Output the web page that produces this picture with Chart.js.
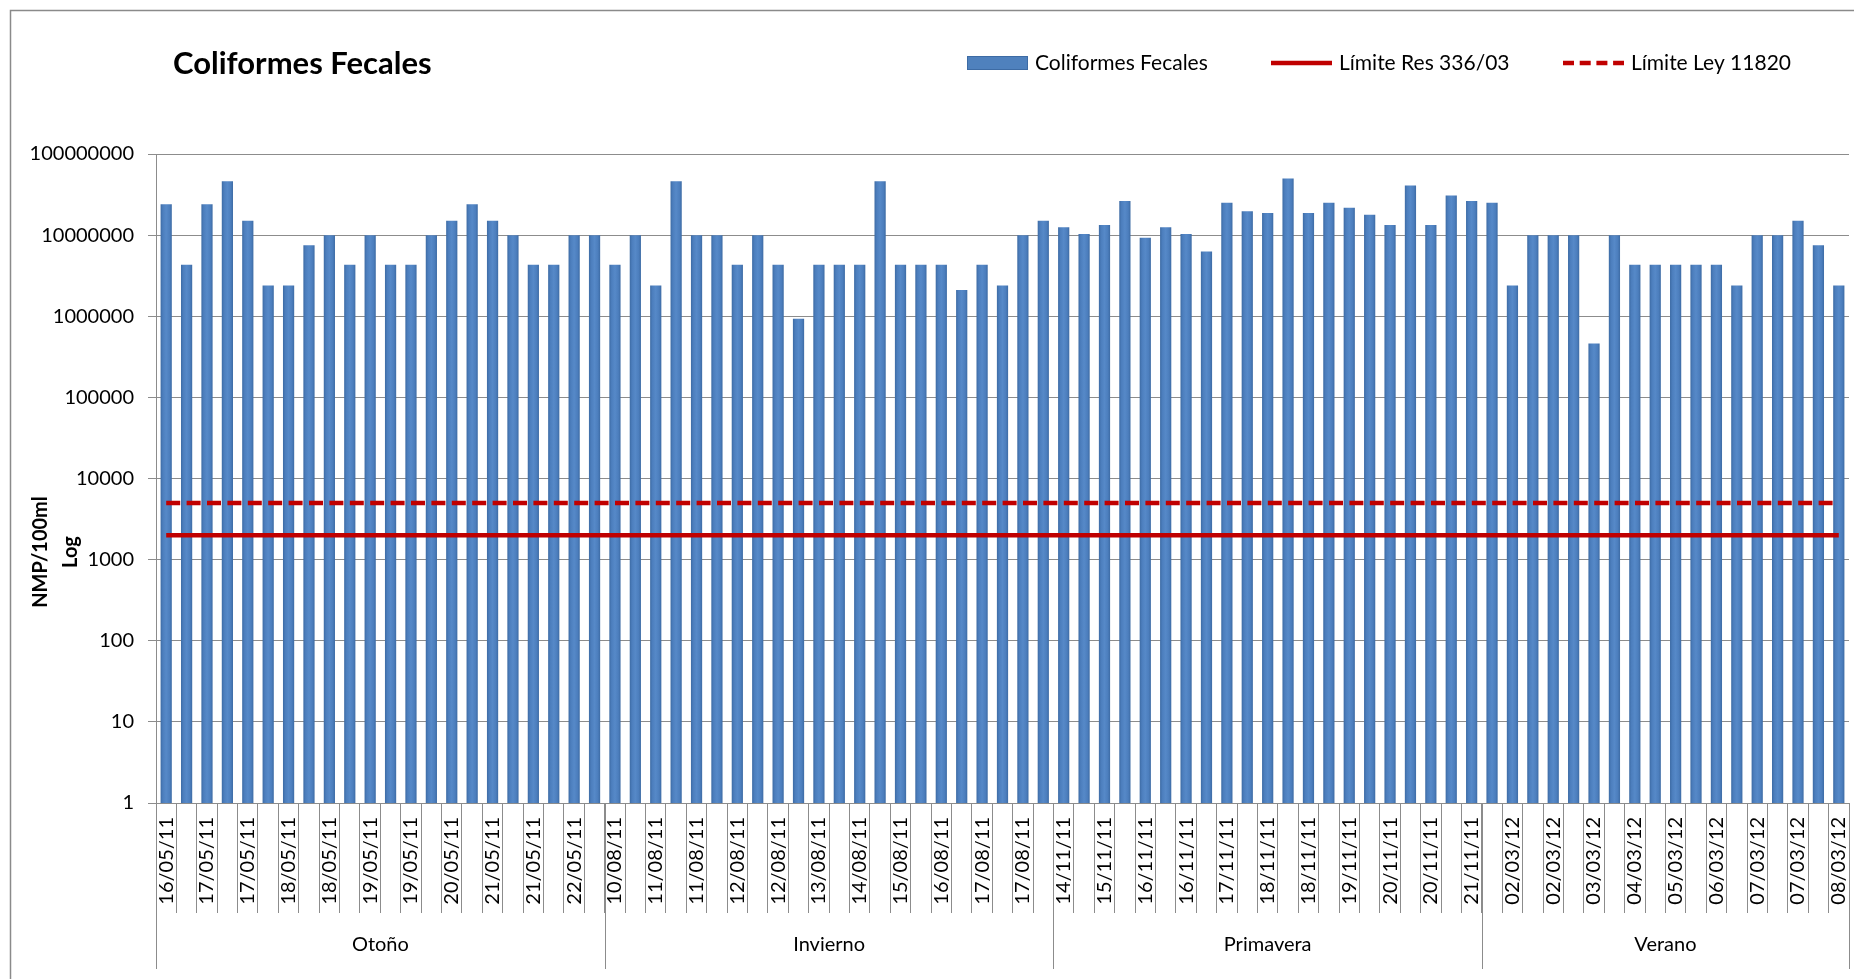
<!DOCTYPE html>
<html>
<head>
<meta charset="utf-8">
<title>Coliformes Fecales</title>
<script src="https://cdn.jsdelivr.net/npm/chart.js@4.4.0/dist/chart.umd.min.js"></script>
<style>
  html, body { margin: 0; padding: 0; background: #ffffff; }
  canvas { display: block; }
</style>
</head>
<body>
<canvas id="chart" width="1854" height="979"></canvas>
<script>
// ---- Data -------------------------------------------------------------
const chartTitle = 'Coliformes Fecales';
const seriesNames = ['Coliformes Fecales', 'Límite Res 336/03', 'Límite Ley 11820'];
const yTitleLines = ['NMP/100ml', 'Log'];
const seasons = ['Otoño', 'Invierno', 'Primavera', 'Verano'];

const datesOtono = ['16/05/11', '16/05/11', '17/05/11', '17/05/11', '17/05/11', '17/05/11',
  '18/05/11', '18/05/11', '18/05/11', '19/05/11', '19/05/11', '19/05/11', '19/05/11', '20/05/11',
  '20/05/11', '20/05/11', '21/05/11', '21/05/11', '21/05/11', '22/05/11', '22/05/11', '22/05/11'];
const datesInvierno = ['10/08/11', '10/08/11', '11/08/11', '11/08/11', '11/08/11', '12/08/11',
  '12/08/11', '12/08/11', '12/08/11', '13/08/11', '13/08/11', '14/08/11', '14/08/11', '15/08/11',
  '15/08/11', '15/08/11', '16/08/11', '16/08/11', '17/08/11', '17/08/11', '17/08/11', '18/08/11'];
const datesPrimavera = ['14/11/11', '14/11/11', '15/11/11', '15/11/11', '16/11/11', '16/11/11',
  '16/11/11', '17/11/11', '17/11/11', '17/11/11', '18/11/11', '18/11/11', '18/11/11', '19/11/11',
  '19/11/11', '19/11/11', '20/11/11', '20/11/11', '20/11/11', '21/11/11', '21/11/11'];
const datesVerano = ['01/03/12', '02/03/12', '02/03/12', '02/03/12', '03/03/12', '03/03/12',
  '03/03/12', '04/03/12', '04/03/12', '05/03/12', '05/03/12', '06/03/12', '06/03/12', '07/03/12',
  '07/03/12', '07/03/12', '08/03/12', '08/03/12'];

// NMP/100ml per sample
const valuesOtono = [24000000, 4300000, 24000000, 46000000, 15000000, 2400000, 2400000, 7500000,
  10000000, 4300000, 10000000, 4300000, 4300000, 10000000, 15000000, 24000000, 15000000, 10000000,
  4300000, 4300000, 10000000, 10000000];
const valuesInvierno = [4300000, 10000000, 2400000, 46000000, 10000000, 10000000, 4300000, 10000000,
  4300000, 930000, 4300000, 4300000, 4300000, 46000000, 4300000, 4300000, 4300000, 2100000,
  4300000, 2400000, 10000000, 15000000];
const valuesPrimavera = [12500000, 10300000, 13300000, 26400000, 9300000, 12500000, 10300000,
  6300000, 25000000, 19700000, 18700000, 49800000, 18700000, 25000000, 21800000, 17800000,
  13300000, 41000000, 13300000, 30700000, 26400000];
const valuesVerano = [25000000, 2400000, 10000000, 10000000, 10000000, 460000, 10000000, 4300000,
  4300000, 4300000, 4300000, 4300000, 2400000, 10000000, 10000000, 15000000, 7500000, 2400000];

// Regulatory limits (NMP/100ml)
const limitRes = 2000;
const limitLey = 5000;

const yTicks = [1, 10, 100, 1000, 10000, 100000, 1000000, 10000000, 100000000];

// ---- Derived tables ---------------------------------------------------
const dateGroups = [datesOtono, datesInvierno, datesPrimavera, datesVerano];
const categories = [].concat(...dateGroups);
const coliformes = [].concat(valuesOtono, valuesInvierno, valuesPrimavera, valuesVerano);
const lineRes = categories.map(() => limitRes);
const lineLey = categories.map(() => limitLey);

const BAR_FRACTION = 0.55;
const GRID = '#8c8c8c';
const RED = '#c00000';
const FONT = 'Lato, "Open Sans", sans-serif';

// Bars get a soft horizontal shading, darker at the edges
function barFill(ctx) {
  const c = ctx.chart;
  const xs = c.scales && c.scales.x;
  if (!c.chartArea || !xs || ctx.dataIndex === undefined) return '#4f81bd';
  const cx = xs.getPixelForValue(ctx.dataIndex);
  const w = xs.width / categories.length * BAR_FRACTION;
  const g = c.ctx.createLinearGradient(cx - w / 2, 0, cx + w / 2, 0);
  g.addColorStop(0, '#3d6ba4');
  g.addColorStop(0.2, '#4c7ebd');
  g.addColorStop(0.5, '#5689c8');
  g.addColorStop(0.8, '#4c7ebd');
  g.addColorStop(1, '#3d6ba4');
  return g;
}

// Title, legend, axis title, season groups and frame
const decorations = {
  id: 'decorations',
  afterDraw(chart) {
    const { ctx, chartArea: a } = chart;
    ctx.save();

    // outer frame
    ctx.strokeStyle = '#8a8a8a';
    ctx.lineWidth = 1.5;
    ctx.strokeRect(10.5, 10.5, 2000, 2000);

    // title
    ctx.fillStyle = '#000';
    ctx.textBaseline = 'middle';
    ctx.textAlign = 'left';
    ctx.font = 'bold 31px ' + FONT;
    ctx.fillText(chartTitle, 173, 64);

    // legend
    const ly = 63;
    ctx.font = '21px ' + FONT;
    ctx.fillStyle = '#4f81bd';
    ctx.fillRect(967, ly - 7, 61, 14);
    ctx.strokeStyle = '#3d6ba4';
    ctx.lineWidth = 1;
    ctx.strokeRect(967.5, ly - 6.5, 60, 13);
    ctx.fillStyle = '#000';
    ctx.fillText(seriesNames[0], 1035, ly);

    ctx.strokeStyle = RED;
    ctx.lineWidth = 4.5;
    ctx.beginPath(); ctx.moveTo(1271, ly); ctx.lineTo(1332, ly); ctx.stroke();
    ctx.fillText(seriesNames[1], 1339, ly);

    ctx.setLineDash([11, 5.7]);
    ctx.beginPath(); ctx.moveTo(1563, ly); ctx.lineTo(1624, ly); ctx.stroke();
    ctx.setLineDash([]);
    ctx.fillText(seriesNames[2], 1631, ly);

    // y axis title
    ctx.font = 'bold 20px ' + FONT;
    ctx.textAlign = 'center';
    [[yTitleLines[0], 41], [yTitleLines[1], 71]].forEach(([txt, x]) => {
      ctx.save();
      ctx.translate(x, 552);
      ctx.rotate(-Math.PI / 2);
      ctx.fillText(txt, 0, 0);
      ctx.restore();
    });

    // season groups under the date labels
    const step = a.width / categories.length;
    ctx.strokeStyle = GRID;
    ctx.lineWidth = 1;
    ctx.font = '20px ' + FONT;
    let start = 0;
    const edge = (i) => Math.round(a.left + i * step) + 0.5;
    ctx.beginPath();
    ctx.moveTo(edge(0), a.bottom); ctx.lineTo(edge(0), 969);
    dateGroups.forEach((grp, gi) => {
      const end = start + grp.length;
      ctx.moveTo(edge(end), a.bottom); ctx.lineTo(edge(end), 969);
      ctx.fillText(seasons[gi], a.left + (start + end) / 2 * step, 945);
      start = end;
    });
    ctx.stroke();

    ctx.restore();
  }
};

new Chart(document.getElementById('chart'), {
  type: 'bar',
  data: {
    labels: categories,
    datasets: [
      {
        type: 'line',
        label: seriesNames[2],
        data: lineLey,
        borderColor: RED,
        borderWidth: 4.5,
        borderDash: [14, 6.4],
        pointRadius: 0,
        fill: false,
        order: 0
      },
      {
        type: 'line',
        label: seriesNames[1],
        data: lineRes,
        borderColor: RED,
        borderWidth: 4.5,
        pointRadius: 0,
        fill: false,
        order: 0
      },
      {
        type: 'bar',
        label: seriesNames[0],
        data: coliformes,
        backgroundColor: barFill,
        borderWidth: 0,
        categoryPercentage: 1,
        barPercentage: BAR_FRACTION,
        order: 1
      }
    ]
  },
  options: {
    responsive: false,
    animation: false,
    devicePixelRatio: 1,
    layout: { padding: { top: 154, left: 0, right: 5, bottom: 0 } },
    plugins: {
      legend: { display: false },
      title: { display: false },
      tooltip: { enabled: false }
    },
    scales: {
      x: {
        type: 'category',
        offset: true,
        afterFit(scale) { scale.height = 176; },
        border: { display: true, color: GRID, width: 1 },
        grid: {
          offset: true,
          drawOnChartArea: false,
          drawTicks: true,
          tickLength: 110,
          color: GRID,
          lineWidth: 1
        },
        ticks: {
          autoSkip: false,
          minRotation: 90,
          maxRotation: 90,
          padding: -96,
          color: '#000',
          font: { family: FONT, size: 20 },
          callback: (value, index) => (index % 2 === 0 ? categories[index] : '')
        }
      },
      y: {
        type: 'logarithmic',
        min: 1,
        max: 100000000,
        afterFit(scale) { scale.width = 156; },
        afterBuildTicks(scale) { scale.ticks = yTicks.map((v) => ({ value: v })); },
        border: { display: true, color: GRID, width: 1 },
        grid: { color: GRID, lineWidth: 1, drawTicks: true, tickLength: 8 },
        ticks: {
          padding: 14,
          color: '#000',
          font: { family: FONT, size: 20 },
          callback: (value) => String(value)
        }
      }
    }
  },
  plugins: [decorations]
});
</script>
</body>
</html>
